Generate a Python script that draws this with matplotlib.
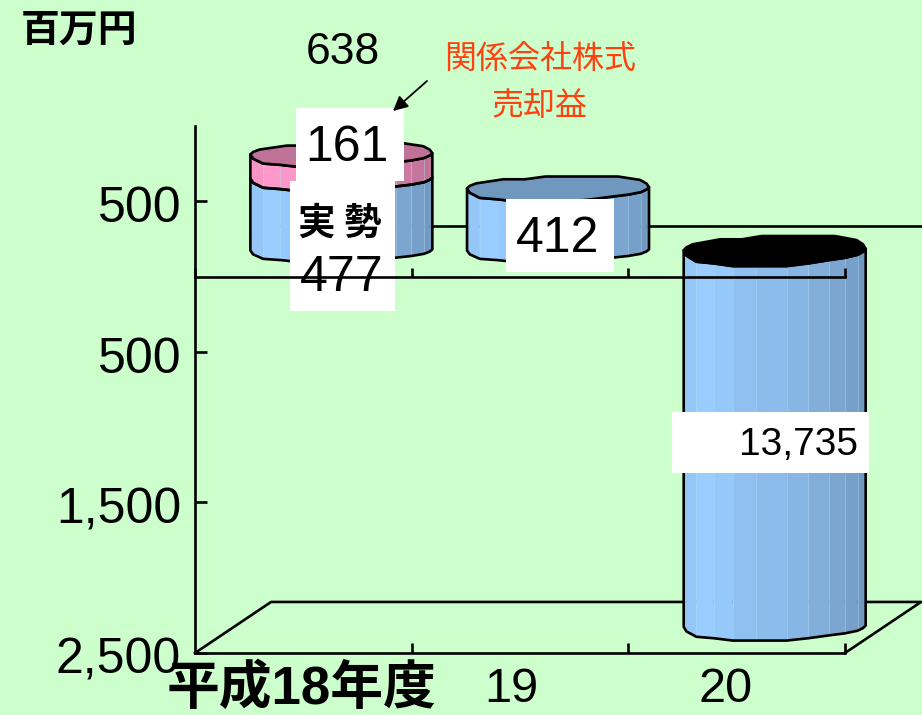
import matplotlib.pyplot as plt
from matplotlib.patches import Polygon, Rectangle
from matplotlib.transforms import Affine2D

# 営業外損益の推移 (百万円)
years = ['平成18年度', '19', '20']
actual = [477, 412, -13735]
stock_gain = [161, 0, 0]
ytick_values = [500, -500, -1500, -2500]
ytick_labels = ['500', '500', '1,500', '2,500']

CJK = 'Noto Sans CJK JP'
plt.rcParams['font.family'] = ['Liberation Sans', CJK]

W, H = 922, 715
BG = '#CCFFCC'
LW = 1.9

# 奥行き (データ座標)
DEPTH_X = 0.351
DEPTH_Y = 339
HALF_W = 0.42

# 多角形の円柱: 側面の分割位置と縁の形
FRONT_U = [0, .015, .07, .165, .27, .40, .565, .685, .80, .885, .955, .985, 1]
FRONT_V = [.05, -.3, -.71, -.82, -1, -1, -1, -.82, -.6, -.45, -.25, -.05, .15]
BACK_U = [0, .015, .05, .20, .32, .43, .83, .95, .985, 1]
BACK_V = [.05, .25, .45, .78, .78, 1, 1, .73, .45, .15]
BLUE_SIDE = ['#94C6F8', '#94C6F8', '#99CCFF', '#95C8FB', '#90C0F0', '#8CBCEC', '#88B6E4',
             '#82AEDA', '#7CA6D0', '#76A0CA', '#7098C0', '#7098C0']
PINK_SIDE = ['#F895C6', '#F895C6', '#FF99CC', '#FB97C9', '#F090C0', '#E88CB8', '#E086B0',
             '#D880A8', '#CC7AA2', '#C6769C', '#C07298', '#C07298']

fig = plt.figure(figsize=(W / 100, H / 100), dpi=100, facecolor=BG)
ax = fig.add_axes([195 / W, (H - 653) / H, 650 / W, 527 / H], facecolor='none')
ax.set_xlim(-0.5, 2.5)
ax.set_ylim(-2500, 1000)

# ラベル用のピクセル座標 (左上原点)
px = Affine2D().scale(1, -1).translate(0, H)


def draw_segment(i, low, high, sides, top_color, rim_low, rim_high, with_top=True):
    cx = i + DEPTH_X / 2
    cy = DEPTH_Y / 2
    xs = [cx - HALF_W + 2 * HALF_W * u for u in FRONT_U]
    low_edge = [cy + low + v * rim_low for v in FRONT_V]
    high_edge = [cy + high + v * rim_high for v in FRONT_V]

    # 側面
    for k, c in enumerate(sides):
        pts = [(xs[k], low_edge[k]), (xs[k + 1], low_edge[k + 1]),
               (xs[k + 1], high_edge[k + 1]), (xs[k], high_edge[k])]
        ax.add_patch(Polygon(pts, facecolor=c, edgecolor=c, lw=0.3, zorder=3, clip_on=False))
    for k in range(2, len(xs) - 2):
        ax.plot([xs[k], xs[k]], [low_edge[k], high_edge[k]], color='#B5D8F5',
                lw=0.5, alpha=0.6, zorder=3.1, clip_on=False)

    # 輪郭
    outline = list(zip(xs, low_edge)) + list(zip(xs[::-1], high_edge[::-1]))
    ax.add_patch(Polygon(outline, facecolor='none', edgecolor='k', lw=LW, zorder=3.2,
                         joinstyle='round', clip_on=False))

    # 上面
    if with_top:
        back = [(cx - HALF_W + 2 * HALF_W * u, cy + high + v * rim_high)
                for u, v in zip(BACK_U, BACK_V)]
        rim = list(zip(xs, high_edge)) + back[::-1]
        ax.add_patch(Polygon(rim, facecolor=top_color, edgecolor='k', lw=LW, zorder=3.3,
                             joinstyle='round', clip_on=False))


y_min = ax.get_ylim()[0]
draw_segment(0, 0, actual[0], BLUE_SIDE, '#7098BE', 73, 80, with_top=False)
draw_segment(0, actual[0], actual[0] + stock_gain[0], PINK_SIDE, '#BE7298', 80, 80)
draw_segment(1, 0, actual[1], BLUE_SIDE, '#7098BE', 73, 83)
draw_segment(2, max(actual[2], y_min), 0, BLUE_SIDE, 'black', 87, 100)

# 床と奥の線
line = dict(color='k', lw=LW, clip_on=False, solid_capstyle='projecting')
ax.plot([-0.5, -0.5 + DEPTH_X, 2.5 + DEPTH_X, 2.5],
        [y_min, y_min + DEPTH_Y, y_min + DEPTH_Y, y_min], zorder=1, **line)
ax.plot([-0.5 + DEPTH_X, 2.5 + DEPTH_X], [DEPTH_Y, DEPTH_Y], zorder=1, **line)

# 軸
for side in ('top', 'right'):
    ax.spines[side].set_visible(False)
for side in ('left', 'bottom'):
    ax.spines[side].set_linewidth(LW)
ax.set_yticks(ytick_values, ytick_labels)
ax.tick_params(axis='y', direction='in', length=8.5, width=LW, pad=10, labelsize=36)
shift_down = Affine2D().translate(0, -3)
for lab in ax.get_yticklabels():
    lab.set_transform(lab.get_transform() + shift_down)
ax.set_xticks([0.5, 1.5, 2.5], [])
ax.tick_params(axis='x', direction='in', length=7, width=LW)

# カテゴリ名
label_shift = [-2, -9, -11]
for i, name in enumerate(years):
    is_first = i == 0
    ax.annotate(name, xy=(i, y_min), xycoords='data', xytext=(label_shift[i] * 0.72, -37 * 0.72),
                textcoords='offset points', ha='center', va='center',
                fontsize=38 if is_first else 35, weight='bold' if is_first else 'normal',
                annotation_clip=False)

# 白抜きのデータラベル
boxes = [(296, 108, 108, 73), (290, 181, 105, 130), (506, 199, 108, 73), (672, 412, 197, 61)]
for x, y, w, h in boxes:
    ax.add_patch(Rectangle((x, y), w, h, transform=px, facecolor='white', edgecolor='none',
                           zorder=5, clip_on=False))


def put(x, y, s, size, **kw):
    ax.text(x, y, s, transform=px, fontsize=size, ha='center', va='center', zorder=6,
            clip_on=False, **kw)


put(347, 148, str(stock_gain[0]), 36)
put(340, 223, '実 勢', 27, family=CJK, weight='bold')
put(342, 278, str(actual[0]), 36)
put(558, 239, str(actual[1]), 36)
put(798, 445, f'{abs(actual[2]):,}', 28)

# 手前のゼロ線は白抜きより前面
ax.plot([-0.5, 2.5], [0, 0], zorder=7, **line)
ax.vlines([-0.5, 0.5, 1.5, 2.5], 0, 60, color='k', lw=LW, zorder=7, clip_on=False)

# 注記
put(343, 52, str(actual[0] + stock_gain[0]), 32, color='k')
put(540, 59, '関係会社株式', 23, family=CJK, color='#FF4010')
put(540, 106, '売却益', 23, family=CJK, color='#FF4010')
put(79, 30, '百万円', 28, family=CJK, weight='bold')
ax.annotate('', xy=(393, 111), xytext=(427, 81), xycoords=px, textcoords=px, zorder=6,
            arrowprops=dict(arrowstyle='-|>', color='k', lw=1.3, mutation_scale=22,
                            shrinkA=0, shrinkB=0))

fig.savefig('out.png', dpi=100, facecolor=BG)
